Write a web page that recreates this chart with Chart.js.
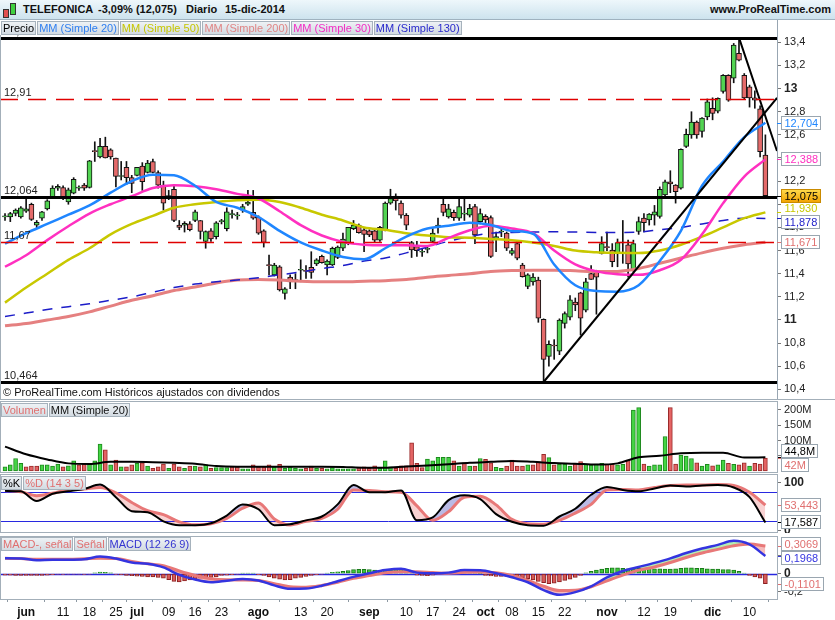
<!DOCTYPE html>
<html lang="es">
<head>
<meta charset="utf-8">
<title>TELEFONICA - Diario</title>
<script src="https://cdn.jsdelivr.net/npm/chart.js@4.4.1/dist/chart.umd.min.js"></script>
<style>
  html, body { margin: 0; padding: 0; background: #fff; }
  #wrap { position: relative; width: 835px; height: 620px; overflow: hidden; background: #fff;
          font-family: Arial, "Liberation Sans", sans-serif; color: #111; }
  #wrap canvas { position: absolute; left: 0; }
  .hdr { position: absolute; left: 0; top: 0; width: 835px; height: 19px;
         background: linear-gradient(#eef7fb, #cde3ee); border-bottom: 1px solid #9fb2bf; }
  .hdr span { position: absolute; top: 3px; font-size: 11px; font-weight: bold; line-height: 13px; white-space: pre; }
  .ico { position: absolute; border: 1px solid #333; }
  .leg { position: absolute; left: 1px; display: flex; z-index: 5; }
  .leg span { display: block; height: 12px; line-height: 12px; font-size: 11px; padding: 0 1px;
              margin-right: 1px; border: 1px solid #a6b2bc; background: linear-gradient(#eef2f5, #d3dbe2); white-space: nowrap; }
  .ln { position: absolute; background: #a3afb9; z-index: 4; }
  .box { position: absolute; border: 1px solid #a3afb9; box-sizing: border-box; z-index: 4; }
  .note { position: absolute; left: 3px; top: 386px; font-size: 11px; line-height: 13px; z-index: 5; }
</style>
</head>
<body>
<div id="wrap">
  <div class="hdr">
    <div class="ico" style="left:3px;top:9px;width:4px;height:7px;background:#e05050"></div>
    <div class="ico" style="left:10px;top:3px;width:4px;height:10px;background:#40d040"></div>
    <span style="left:23px">TELEFONICA</span>
    <span style="left:98px">-3,09% (12,075)</span>
    <span style="left:186px">Diario</span>
    <span style="left:225px">15-dic-2014</span>
    <span style="right:4px">www.ProRealTime.com</span>
  </div>

  <canvas id="cPrice" width="835" height="379" style="top:20px"></canvas>
  <canvas id="cVol" width="835" height="72" style="top:401px"></canvas>
  <canvas id="cStoch" width="835" height="59" style="top:474px"></canvas>
  <canvas id="cMacd" width="835" height="84" style="top:536px"></canvas>

  <div class="ln" style="left:0;top:35px;width:1px;height:364px"></div>
  <div class="ln" style="left:0;top:399px;width:835px;height:1px"></div>
  <div class="box" style="left:0;top:401px;width:778px;height:72px"></div>
  <div class="box" style="left:0;top:474px;width:778px;height:59px"></div>
  <div class="box" style="left:0;top:536px;width:778px;height:64px"></div>

  <div class="leg" style="top:21px">
    <span style="color:#000">Precio</span>
    <span style="color:#2f7ff0">MM (Simple 20)</span>
    <span style="color:#c6c600">MM (Simple 50)</span>
    <span style="color:#e08585">MM (Simple 200)</span>
    <span style="color:#f22cc4">MM (Simple 30)</span>
    <span style="color:#2a2acc">MM (Simple 130)</span>
  </div>
  <div class="note">© ProRealTime.com Históricos ajustados con dividendos</div>
  <div class="leg" style="top:403px">
    <span style="color:#e07070">Volumen</span>
    <span style="color:#111">MM (Simple 20)</span>
  </div>
  <div class="leg" style="top:476px">
    <span style="color:#000">%K</span>
    <span style="color:#e07070">%D (14 3 5)</span>
  </div>
  <div class="leg" style="top:537px">
    <span style="color:#e07070">MACD-, señal</span>
    <span style="color:#e07070">Señal</span>
    <span style="color:#3434d0">MACD (12 26 9)</span>
  </div>
</div>

<script>
// ==========================================
// DATA
// ==========================================

// trading sessions, month -> days
const sessions = [
  ['05', [27, 28, 29, 30]],
  ['06', [2, 3, 4, 5, 6, 9, 10, 11, 12, 13, 16, 17, 18, 19, 20, 23, 24, 25, 26, 27, 30]],
  ['07', [1, 2, 3, 4, 7, 8, 9, 10, 11, 14, 15, 16, 17, 18, 21, 22, 23, 24, 25, 28, 29, 30, 31]],
  ['08', [1, 4, 5, 6, 7, 8, 11, 12, 13, 14, 15, 18, 19, 20, 21, 22, 25, 26, 27, 28, 29]],
  ['09', [1, 2, 3, 4, 5, 8, 9, 10, 11, 12, 15, 16, 17, 18, 19, 22, 23, 24, 25, 26, 29, 30]],
  ['10', [1, 2, 3, 6, 7, 8, 9, 10, 13, 14, 15, 16, 17, 20, 21, 22, 23, 24, 27, 28, 29, 30, 31]],
  ['11', [3, 4, 5, 6, 7, 10, 11, 12, 13, 14, 17, 18, 19, 20, 21, 24, 25, 26, 27, 28]],
  ['12', [1, 2, 3, 4, 5, 8, 9, 10, 11, 12, 15]]
];
const dates = sessions.flatMap(([m, days]) => days.map(d => String(d).padStart(2, '0') + '/' + m));

const tickDates = ['02/06', '11/06', '18/06', '25/06', '01/07', '09/07', '16/07', '23/07', '01/08', '13/08', '20/08',
  '01/09', '10/09', '17/09', '24/09', '01/10', '08/10', '15/10', '22/10', '03/11', '12/11', '19/11', '01/12', '10/12'];
const tickLabels = ['jun', '11', '18', '25', 'jul', '09', '16', '23', 'ago', '13', '20',
  'sep', '10', '17', '24', 'oct', '08', '15', '22', 'nov', '12', '19', 'dic', '10'];

const open = [
  11.89, 11.89, 11.92, 11.89, 11.94, 12.00, 11.82, 11.88, 11.96, 12.065,
  12.14, 12.145, 12.02, 12.095, 12.14, 12.165, 12.145, 12.46, 12.41, 12.50,
  12.47, 12.40, 12.24, 12.32, 12.23, 12.25, 12.33, 12.275, 12.37, 12.275,
  12.165, 12.06, 12.13, 11.82, 11.82, 11.83, 11.86, 11.86, 11.68, 11.77,
  11.72, 11.85, 11.79, 11.91, 11.90, 11.95, 12.00, 11.93, 11.89, 11.77,
  11.475, 11.39, 11.46, 11.23, 11.37, 11.35, 11.43, 11.425, 11.455, 11.485,
  11.55, 11.475, 11.475, 11.54, 11.62, 11.66, 11.79, 11.82, 11.78, 11.77,
  11.77, 11.69, 11.78, 12.01, 12.07, 12.01, 11.905, 11.67, 11.635, 11.585,
  11.61, 11.68, 11.805, 12.00, 11.89, 11.93, 11.88, 11.915, 11.905, 11.98,
  11.85, 11.895, 11.885, 11.70, 11.76, 11.75, 11.575, 11.66, 11.475, 11.29,
  11.33, 11.345, 11.005, 10.685, 10.78, 10.73, 10.97, 11.025, 11.155, 11.235,
  11.085, 11.40, 11.42, 11.575, 11.63, 11.605, 11.575, 11.665, 11.65, 11.43,
  11.765, 11.88, 11.865, 11.905, 11.895, 12.08, 12.195, 12.165, 12.14, 12.50,
  12.60, 12.71, 12.63, 12.755, 12.83, 12.805, 12.975, 13.115, 13.09, 13.305,
  13.115, 13.015, 12.92, 12.825, 12.425
];
const high = [
  11.92, 11.93, 11.96, 11.98, 12.05, 12.01, 11.86, 11.94, 12.04, 12.16,
  12.17, 12.16, 12.14, 12.23, 12.16, 12.18, 12.38, 12.54, 12.57, 12.58,
  12.48, 12.40, 12.37, 12.37, 12.25, 12.32, 12.36, 12.38, 12.39, 12.29,
  12.20, 12.12, 12.16, 11.86, 11.85, 11.85, 11.95, 11.86, 11.77, 11.79,
  11.85, 11.87, 11.97, 11.95, 11.93, 12.00, 12.12, 12.12, 11.90, 11.78,
  11.56, 11.49, 11.47, 11.28, 11.39, 11.40, 11.52, 11.47, 11.59, 11.53,
  11.56, 11.52, 11.63, 11.64, 11.75, 11.80, 11.86, 11.83, 11.80, 11.78,
  11.78, 11.81, 12.02, 12.13, 12.09, 12.03, 11.92, 11.68, 11.68, 11.62,
  11.63, 11.79, 11.88, 12.06, 12.00, 11.95, 12.05, 12.05, 12.00, 12.00,
  11.96, 11.91, 11.90, 11.76, 11.80, 11.76, 11.62, 11.68, 11.49, 11.40,
  11.40, 11.37, 11.01, 10.82, 10.83, 11.01, 11.07, 11.21, 11.19, 11.24,
  11.36, 11.47, 11.43, 11.72, 11.76, 11.66, 11.70, 11.86, 11.69, 11.69,
  11.89, 11.92, 11.92, 11.99, 12.15, 12.21, 12.29, 12.17, 12.48, 12.65,
  12.80, 12.72, 12.75, 12.91, 12.92, 12.92, 13.12, 13.12, 13.39, 13.44,
  13.13, 13.03, 12.98, 12.85, 12.60
];
const low = [
  11.86, 11.85, 11.90, 11.88, 11.93, 11.86, 11.79, 11.86, 11.95, 12.05,
  12.12, 12.04, 12.00, 12.09, 12.12, 12.12, 12.14, 12.37, 12.40, 12.40,
  12.39, 12.15, 12.21, 12.17, 12.10, 12.245, 12.12, 12.27, 12.27, 12.14,
  11.95, 12.04, 11.85, 11.78, 11.76, 11.77, 11.85, 11.70, 11.62, 11.68,
  11.70, 11.83, 11.77, 11.88, 11.87, 11.93, 11.99, 11.87, 11.74, 11.63,
  11.39, 11.38, 11.25, 11.18, 11.27, 11.27, 11.33, 11.36, 11.36, 11.47,
  11.49, 11.39, 11.47, 11.53, 11.60, 11.65, 11.78, 11.75, 11.59, 11.72,
  11.67, 11.68, 11.77, 12.00, 11.95, 11.88, 11.78, 11.54, 11.55, 11.55,
  11.58, 11.67, 11.75, 11.90, 11.88, 11.86, 11.86, 11.86, 11.89, 11.66,
  11.83, 11.84, 11.54, 11.59, 11.72, 11.60, 11.56, 11.52, 11.37, 11.27,
  11.30, 10.98, 10.464, 10.60, 10.66, 10.70, 10.93, 11.00, 11.08, 10.87,
  11.07, 11.35, 11.05, 11.57, 11.60, 11.46, 11.46, 11.49, 11.37, 11.42,
  11.74, 11.76, 11.82, 11.82, 11.88, 12.07, 12.10, 12.01, 12.13, 12.49,
  12.57, 12.57, 12.58, 12.73, 12.73, 12.79, 12.96, 12.89, 13.05, 13.24,
  12.91, 12.84, 12.83, 12.41, 12.07
];
const close = [
  11.90, 11.92, 11.95, 11.97, 11.96, 11.87, 11.845, 11.935, 12.03, 12.14,
  12.155, 12.05, 12.125, 12.215, 12.145, 12.14, 12.375, 12.455, 12.50, 12.40,
  12.41, 12.24, 12.245, 12.23, 12.18, 12.32, 12.195, 12.355, 12.275, 12.165,
  12.01, 12.075, 11.86, 11.80, 11.835, 11.78, 11.935, 11.765, 11.765, 11.70,
  11.84, 11.855, 11.935, 11.915, 11.905, 11.98, 12.02, 11.88, 11.75, 11.67,
  11.47, 11.475, 11.26, 11.27, 11.33, 11.34, 11.43, 11.42, 11.41, 11.52,
  11.495, 11.51, 11.62, 11.63, 11.70, 11.80, 11.82, 11.755, 11.74, 11.735,
  11.69, 11.80, 12.01, 12.05, 12.03, 11.905, 11.82, 11.605, 11.60, 11.585,
  11.61, 11.75, 11.82, 11.93, 11.96, 11.885, 11.98, 11.915, 11.965, 11.735,
  11.92, 11.865, 11.55, 11.72, 11.76, 11.62, 11.60, 11.535, 11.375, 11.39,
  11.37, 11.015, 10.66, 10.79, 10.775, 11.00, 11.055, 11.175, 11.13, 11.015,
  11.33, 11.35, 11.37, 11.66, 11.625, 11.505, 11.67, 11.67, 11.485, 11.66,
  11.85, 11.84, 11.915, 11.935, 12.13, 12.195, 12.175, 12.11, 12.475, 12.605,
  12.71, 12.60, 12.745, 12.885, 12.785, 12.915, 13.115, 12.90, 13.375, 13.245,
  12.92, 12.92, 12.90, 12.455, 12.075
];

// volume, millions of shares
const volume = [
  14, 20, 41, 25, 14, 16, 16, 20, 20, 16,
  23, 14, 17, 33, 20, 22, 25, 33, 88, 69,
  20, 36, 14, 14, 20, 25, 27, 16, 9, 14,
  23, 9, 23, 14, 9, 16, 16, 14, 20, 9,
  11, 11, 11, 14, 14, 7, 7, 20, 14, 14,
  20, 14, 22, 9, 14, 9, 7, 9, 16, 9,
  9, 7, 11, 7, 7, 7, 7, 11, 14, 9,
  17, 9, 33, 14, 9, 17, 17, 92, 25, 11,
  39, 33, 45, 45, 45, 33, 16, 27, 16, 16,
  41, 38, 27, 12, 9, 16, 36, 16, 16, 20,
  20, 31, 55, 44, 20, 23, 23, 16, 23, 31,
  22, 20, 23, 25, 22, 22, 20, 22, 36, 200,
  208, 23, 16, 20, 20, 113, 208, 23, 52, 49,
  41, 27, 16, 22, 17, 20, 36, 25, 22, 20,
  27, 16, 25, 23, 42
];

// moving averages, read every 4th session
const MA_STEP = 4;
const ma20 = [11.66, 11.75, 11.83, 11.91, 11.99, 12.10, 12.20, 12.255, 12.25, 12.16,
  12.02, 11.97, 11.89, 11.77, 11.67, 11.60, 11.545, 11.525, 11.62, 11.72,
  11.79, 11.815, 11.84, 11.82, 11.77, 11.745, 11.48, 11.30, 11.25, 11.245,
  11.30, 11.51, 11.77, 12.16, 12.37, 12.58, 12.704];
const ma30 = [11.46, 11.56, 11.69, 11.81, 11.92, 12.00, 12.07, 12.14, 12.165, 12.155,
  12.13, 12.09, 12.05, 11.94, 11.82, 11.73, 11.675, 11.65, 11.645, 11.645,
  11.64, 11.71, 11.775, 11.815, 11.79, 11.75, 11.60, 11.48, 11.42, 11.395,
  11.39, 11.43, 11.52, 11.74, 12.01, 12.24, 12.388];
const ma50 = [11.15, 11.28, 11.40, 11.52, 11.62, 11.74, 11.83, 11.90, 11.97, 12.00,
  12.02, 12.035, 12.04, 12.02, 11.97, 11.91, 11.86, 11.80, 11.78, 11.75,
  11.73, 11.715, 11.71, 11.70, 11.69, 11.67, 11.64, 11.60, 11.585, 11.58,
  11.578, 11.60, 11.65, 11.72, 11.80, 11.88, 11.930];
const ma130 = [11.03, 11.06, 11.09, 11.115, 11.14, 11.17, 11.20, 11.24, 11.28, 11.31,
  11.33, 11.345, 11.365, 11.39, 11.415, 11.445, 11.47, 11.51, 11.535, 11.58,
  11.63, 11.68, 11.72, 11.75, 11.757, 11.76, 11.762, 11.76, 11.757, 11.757,
  11.76, 11.78, 11.80, 11.83, 11.86, 11.88, 11.878];
const ma200 = [10.95, 10.97, 11.00, 11.03, 11.07, 11.12, 11.17, 11.21, 11.255, 11.285,
  11.32, 11.345, 11.35, 11.345, 11.335, 11.33, 11.33, 11.335, 11.34, 11.35,
  11.37, 11.385, 11.40, 11.42, 11.428, 11.43, 11.43, 11.425, 11.418, 11.42,
  11.445, 11.49, 11.535, 11.58, 11.62, 11.65, 11.671];
const volMa = [80, 55, 38, 25, 23, 30, 30, 29, 27, 24,
  16, 14, 14, 14, 14, 14, 13.5, 11, 11, 15,
  18, 22, 27, 30, 33, 30, 26, 24, 21, 25,
  45, 50, 58, 60, 60, 44, 44.8];

// oscillators, read every 3rd session
const OSC_STEP = 3;
const stochK = [83, 82, 62, 77, 82, 87, 96, 70, 41, 39,
  20, 12, 12, 16, 32, 55, 45, 12, 14, 22,
  30, 55, 95, 80, 80, 84, 22, 28, 64, 74,
  66, 35, 19, 12, 11, 30, 46, 75, 91, 85,
  82, 88, 94, 92, 94, 95, 90, 70, 17.587];
const stochD = [84, 81, 73, 78, 85, 87, 90, 79, 59, 42,
  34, 19, 13, 15, 26, 47, 58, 25, 12.4, 20,
  26, 45, 85, 84, 81, 80, 52, 22, 40, 70,
  72, 54, 24, 15, 14, 22, 37, 55, 85, 86,
  85, 90, 94, 95, 95, 96, 94, 80, 53.443];
const macd = [0.171, 0.17, 0.15, 0.155, 0.155, 0.16, 0.19, 0.168, 0.125, 0.11,
  0.07, -0.013, -0.065, -0.095, -0.078, -0.058, -0.075, -0.13, -0.168, -0.165,
  -0.133, -0.083, -0.035, 0.005, 0.04, 0.055, 0.012, 0.004, 0.012, 0.04,
  0.038, 0.005, -0.04, -0.095, -0.182, -0.235, -0.205, -0.14, -0.04, 0.03,
  0.075, 0.12, 0.17, 0.23, 0.28, 0.32, 0.365, 0.325, 0.1968];
const signal = [0.171, 0.168, 0.16, 0.16, 0.16, 0.165, 0.171, 0.168, 0.137, 0.11,
  0.09, 0.03, -0.02, -0.055, -0.068, -0.07, -0.075, -0.11, -0.145, -0.15,
  -0.13, -0.095, -0.052, -0.02, 0.01, 0.022, 0.022, 0.012, 0.006, 0.016,
  0.02, 0.01, -0.02, -0.075, -0.14, -0.188, -0.185, -0.145, -0.08, -0.015,
  0.04, 0.075, 0.125, 0.18, 0.23, 0.27, 0.31, 0.33, 0.3069];
// MACD histogram, every session
const histogram = [
  -0.015, -0.015, -0.018, -0.018, -0.02, -0.02, -0.02, -0.02, -0.015, -0.01,
  -0.005, -0.008, -0.005, -0.004, -0.006, -0.008, -0.003, 0.01, 0.018, 0.015,
  0.01, -0.008, -0.012, -0.018, -0.022, -0.028, -0.03, -0.035, -0.035, -0.042,
  -0.05, -0.065, -0.085, -0.09, -0.08, -0.07, -0.06, -0.05, -0.045, -0.04,
  -0.035, -0.02, -0.015, -0.01, -0.005, 0.005, 0.008, 0.005, -0.01, -0.02,
  -0.035, -0.05, -0.06, -0.07, -0.065, -0.05, -0.04, -0.03, -0.02, -0.01,
  -0.005, 0.005, 0.015, 0.02, 0.025, 0.035, 0.045, 0.048, 0.048, 0.045,
  0.04, 0.038, 0.04, 0.045, 0.05, 0.048, 0.035, 0.02, -0.015, -0.02,
  -0.022, -0.015, -0.005, 0.005, 0.01, 0.015, 0.02, 0.02, 0.015, 0.008,
  0.002, -0.02, -0.025, -0.03, -0.03, -0.03, -0.03, -0.035, -0.045, -0.055,
  -0.07, -0.085, -0.1, -0.11, -0.105, -0.09, -0.075, -0.06, -0.04, -0.02,
  0.01, 0.025, 0.04, 0.05, 0.06, 0.065, 0.065, 0.06, 0.055, 0.055,
  0.06, 0.06, 0.06, 0.055, 0.055, 0.05, 0.05, 0.055, 0.06, 0.065,
  0.065, 0.06, 0.06, 0.055, 0.05, 0.05, 0.045, 0.045, 0.04, 0.025,
  0.005, -0.02, -0.035, -0.05, -0.1101
];

// horizontal levels and trend lines drawn on the price panel
const levels = [13.44, 12.91, 12.064, 11.67, 10.464];
const trendUp = [[102, 10.464], [146.2, 12.92]];
const trendDown = [[139, 13.44], [146.2, 12.46]];

const priceTicks = [10.4, 10.6, 10.8, 11, 11.2, 11.4, 11.6, 11.8, 12, 12.2, 12.4, 12.6, 12.8, 13, 13.2, 13.4];
const volTicks = [50, 100, 150, 200];
const stochTicks = [0, 100];
const stochBands = [20, 80];
const macdTicks = [-0.2, 0, 0.2];

// ==========================================
// HELPERS
// ==========================================

const FONT = 'Arial, "Liberation Sans", sans-serif';
Chart.defaults.font.family = FONT;
Chart.defaults.font.size = 11;
Chart.defaults.color = '#222';

const X_MIN = -0.95, X_MAX = 146.2;
const AXIS_W = 58;
const GREEN = '#52d452', RED = '#e46a6a', SALMON = '#e87878';

const comma = (v, d) => v.toFixed(d).replace('.', ',');
const stepPoints = (vals, step) => vals.map((v, k) => ({ x: k * step, y: v }));
const tickIdx = tickDates.map(d => dates.indexOf(d));
const last = a => a[a.length - 1];

function drawLevels(chart, opts) {
  const { ctx, chartArea: a, scales: { y } } = chart;
  (opts.items || []).forEach(it => {
    const py = Math.round(y.getPixelForValue(it.value)) + 0.5;
    ctx.save();
    ctx.beginPath();
    ctx.strokeStyle = it.color;
    ctx.lineWidth = it.width;
    ctx.setLineDash(it.dash || []);
    ctx.moveTo(a.left, py);
    ctx.lineTo(a.right, py);
    ctx.stroke();
    if (it.label) {
      ctx.fillStyle = '#222';
      ctx.font = '11px ' + FONT;
      ctx.textBaseline = 'bottom';
      ctx.fillText(it.label, a.left + 4, py - 1);
    }
    ctx.restore();
  });
}

const levelsPlugin = {
  id: 'levels',
  beforeDatasetsDraw(chart, args, opts) { if (!opts.top) drawLevels(chart, opts); },
  afterDatasetsDraw(chart, args, opts) { if (opts.top) drawLevels(chart, opts); }
};

// last-value boxes on the right axis
const boxesPlugin = {
  id: 'boxes',
  afterDraw(chart, args, opts) {
    const items = opts.items || [];
    const { ctx, chartArea: a, scales: { y } } = chart;
    const H = 14;
    const pos = items.map(it => ({ it, y: y.getPixelForValue(it.value) }));
    const sorted = pos.slice().sort((p, q) => p.y - q.y);
    for (let k = 1; k < sorted.length; k++) {
      const gap = sorted[k].y - sorted[k - 1].y;
      if (gap < H) {
        const d = (H - gap) / 2;
        sorted[k - 1].y -= d;
        sorted[k].y += d;
      }
    }
    ctx.save();
    ctx.font = '11px ' + FONT;
    ctx.textBaseline = 'middle';
    pos.forEach(p => {
      const it = p.it;
      const vy = Math.round(y.getPixelForValue(it.value)) + 0.5;
      ctx.strokeStyle = it.color;
      ctx.lineWidth = 1;
      ctx.beginPath();
      ctx.moveTo(a.right, vy);
      ctx.lineTo(a.right + 4, vy);
      ctx.stroke();
      const w = Math.ceil(ctx.measureText(it.text).width) + 5;
      const x0 = a.right + 4.5, y0 = Math.round(p.y - 7) + 0.5;
      if (it.gold) {
        const g = ctx.createLinearGradient(0, y0, 0, y0 + 13);
        g.addColorStop(0, '#ffdb4d');
        g.addColorStop(1, '#f2a200');
        ctx.fillStyle = g;
      } else {
        ctx.fillStyle = '#fff';
      }
      ctx.fillRect(x0, y0, w, 13);
      if (!it.plain) {
        ctx.strokeStyle = it.gold ? '#c98a00' : '#9aa6b0';
        ctx.strokeRect(x0, y0, w, 13);
      }
      ctx.fillStyle = it.color;
      ctx.fillText(it.text, x0 + 3, y0 + 7);
    });
    ctx.restore();
  }
};

function yAxis(min, max, ticks, fmt, isBold) {
  return {
    position: 'right', min, max,
    afterFit: s => { s.width = AXIS_W; s.paddingTop = 0; s.paddingBottom = 0; },
    afterBuildTicks: s => { s.ticks = ticks.map(v => ({ value: v })); },
    grid: { drawOnChartArea: false, tickLength: 4, color: '#777' },
    border: { color: '#98a6b2' },
    ticks: {
      padding: 3, color: '#222',
      callback: v => fmt(v),
      font: c => (c.tick && isBold(c.tick.value)) ? { size: 12, weight: 'bold' } : { size: 11 }
    }
  };
}

const xHidden = { type: 'linear', min: X_MIN, max: X_MAX, offset: false, display: false };

const baseOptions = (scales, plugins) => ({
  responsive: false,
  animation: false,
  events: [],
  layout: { padding: 0 },
  plugins: Object.assign({ legend: { display: false }, tooltip: { enabled: false },
    filler: { drawTime: 'beforeDatasetsDraw' } }, plugins),
  scales
});

const lineSet = (data, color, width, order, extra) => Object.assign({
  type: 'line', data, borderColor: color, borderWidth: width,
  pointRadius: 0, cubicInterpolationMode: 'monotone', order
}, extra || {});

// ==========================================
// PRICE PANEL
// ==========================================

const up = close.map((c, i) => c >= open[i]);
const levelStyles = [
  { color: '#000', width: 3 },
  { color: '#e00000', width: 1.5, dash: [18, 10] },
  { color: '#000', width: 3 },
  { color: '#e00000', width: 1.5, dash: [18, 10] },
  { color: '#000', width: 3 }
];

new Chart(document.getElementById('cPrice'), {
  type: 'bar',
  data: {
    datasets: [
      lineSet(trendUp.map(([x, y]) => ({ x, y })), '#000', 2, 0, { tension: 0 }),
      lineSet(trendDown.map(([x, y]) => ({ x, y })), '#000', 2, 0, { tension: 0 }),
      lineSet(stepPoints(ma20, MA_STEP), '#1f86ff', 2.5, 1),
      lineSet(stepPoints(ma30, MA_STEP), '#ff30c0', 2.5, 2),
      lineSet(stepPoints(ma50, MA_STEP), '#c8c800', 2.5, 3),
      lineSet(stepPoints(ma130, MA_STEP), '#1c1cc8', 1.5, 4, { borderDash: [10, 9] }),
      lineSet(stepPoints(ma200, MA_STEP), '#e58080', 3, 5),
      {
        type: 'bar',
        data: open.map((o, i) => ({ x: i, y: [o, close[i]] })),
        backgroundColor: up.map(u => u ? GREEN : RED),
        borderColor: '#111', borderWidth: 1, borderSkipped: false,
        barThickness: 5, minBarLength: 1, grouped: false, order: 6
      },
      {
        type: 'bar',
        data: low.map((l, i) => ({ x: i, y: [l, high[i]] })),
        backgroundColor: '#111', borderWidth: 0,
        barThickness: 1, grouped: false, order: 7
      }
    ]
  },
  options: baseOptions({
    x: xHidden,
    y: yAxis(10.3170, 13.5927, priceTicks, v => comma(v, v % 1 === 0 ? 0 : 1), v => v % 1 === 0)
  }, {
    levels: {
      top: true,
      items: levels.map((v, k) => Object.assign({ value: v, label: String(v).replace('.', ',') }, levelStyles[k]))
    },
    boxes: {
      items: [
        { value: last(ma20), text: comma(last(ma20), 3), color: '#1f86ff' },
        { value: last(ma30), text: comma(last(ma30), 3), color: '#ff30c0' },
        { value: last(ma50), text: comma(last(ma50), 3), color: '#c8c800', plain: true },
        { value: last(close), text: comma(last(close), 3), color: '#000', gold: true },
        { value: last(ma130), text: comma(last(ma130), 3), color: '#1c1cc8' },
        { value: last(ma200), text: comma(last(ma200), 3), color: '#e07070' }
      ]
    }
  }),
  plugins: [levelsPlugin, boxesPlugin]
});

// ==========================================
// VOLUME PANEL
// ==========================================

const volUp = volume.map((v, i) => i === 0 ? up[0] : close[i] >= close[i - 1]);
const volText = v => (v % 1 === 0 ? String(v) : comma(v, 1)) + 'M';

new Chart(document.getElementById('cVol'), {
  type: 'bar',
  data: {
    datasets: [
      lineSet(stepPoints(volMa, MA_STEP), '#000', 2, 1),
      {
        type: 'bar',
        data: volume.map((v, i) => ({ x: i, y: v })),
        backgroundColor: volUp.map(u => u ? '#44d444' : '#e46464'),
        borderColor: volUp.map(u => u ? '#1d8a1d' : '#9a2a2a'),
        borderWidth: 1, borderSkipped: false, barThickness: 4, grouped: false, order: 2
      }
    ]
  },
  options: baseOptions({
    x: xHidden,
    y: yAxis(-6.56, 229.5, volTicks, v => v + 'M', () => false)
  }, {
    boxes: {
      items: [
        { value: last(volMa), text: volText(last(volMa)), color: '#000' },
        { value: last(volume), text: volText(last(volume)), color: '#e07070' }
      ]
    }
  }),
  plugins: [boxesPlugin]
});

// ==========================================
// STOCHASTIC PANEL
// ==========================================

new Chart(document.getElementById('cStoch'), {
  type: 'line',
  data: {
    datasets: [
      lineSet(stepPoints(stochK, OSC_STEP), '#000', 2, 1, {
        fill: { target: 1, above: 'rgba(140,140,212,0.6)', below: 'rgba(242,165,165,0.5)' }
      }),
      lineSet(stepPoints(stochD, OSC_STEP), SALMON, 3, 2)
    ]
  },
  options: baseOptions({
    x: xHidden,
    y: yAxis(-4.14, 117.9, stochTicks, v => String(v), () => true)
  }, {
    levels: { items: stochBands.map(v => ({ value: v, color: '#2828e0', width: 1 })) },
    boxes: {
      items: [
        { value: last(stochD), text: comma(last(stochD), 3), color: '#e07070' },
        { value: last(stochK), text: comma(last(stochK), 3), color: '#000' }
      ]
    }
  }),
  plugins: [levelsPlugin, boxesPlugin]
});

// ==========================================
// MACD PANEL + TIME AXIS
// ==========================================

new Chart(document.getElementById('cMacd'), {
  type: 'bar',
  data: {
    datasets: [
      lineSet(stepPoints(macd, OSC_STEP), '#3434e0', 2.5, 1, {
        fill: { target: 1, above: 'rgba(165,236,165,0.85)', below: 'rgba(242,170,170,0.8)' }
      }),
      lineSet(stepPoints(signal, OSC_STEP), SALMON, 3, 2),
      {
        type: 'bar',
        data: histogram.map((v, i) => ({ x: i, y: v })),
        backgroundColor: histogram.map(v => v >= 0 ? '#3cc83c' : '#d85a5a'),
        borderColor: histogram.map(v => v >= 0 ? '#1b7a1b' : '#8a2020'),
        borderWidth: 1, borderSkipped: false, barThickness: 4, grouped: false, order: 3
      }
    ]
  },
  options: baseOptions({
    x: {
      type: 'linear', min: X_MIN, max: X_MAX, offset: false,
      afterFit: s => { s.height = 21; s.paddingLeft = 0; s.paddingRight = 0; },
      afterBuildTicks: s => { s.ticks = tickIdx.map(v => ({ value: v })); },
      grid: { drawOnChartArea: false, tickLength: 3, color: '#8d99a3' },
      border: { display: false },
      ticks: {
        autoSkip: false, maxRotation: 0, padding: 3, color: '#111',
        callback: (v, k) => tickLabels[k],
        font: c => ({ size: 12, weight: /[a-z]/.test(tickLabels[c.index] || '') ? 'bold' : 'normal' })
      }
    },
    y: yAxis(-0.2811, 0.4189, macdTicks, v => v === 0 ? '0' : comma(v, 1), v => v === 0)
  }, {
    levels: { items: [{ value: 0, color: '#2828e0', width: 1.5 }] },
    boxes: {
      items: [
        { value: last(signal), text: comma(last(signal), 4), color: '#e07070' },
        { value: last(macd), text: comma(last(macd), 4), color: '#3434e0' },
        { value: last(histogram), text: comma(last(histogram), 4), color: '#e07070' }
      ]
    }
  }),
  plugins: [levelsPlugin, boxesPlugin]
});
</script>
</body>
</html>
